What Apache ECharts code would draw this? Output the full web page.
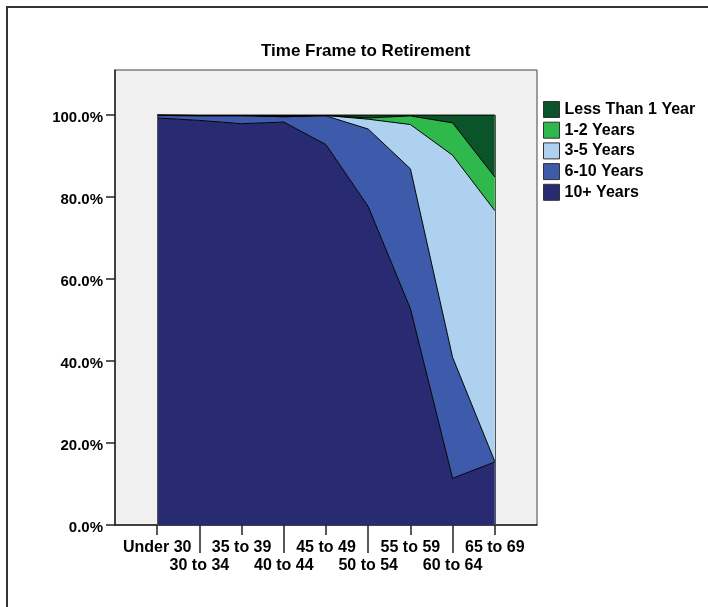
<!DOCTYPE html>
<html>
<head>
<meta charset="utf-8">
<script src="https://cdn.jsdelivr.net/npm/echarts@6/dist/echarts.min.js"></script>
<style>
  html, body { margin: 0; padding: 0; background: #fff; }
  #chart { width: 708px; height: 607px; }
</style>
</head>
<body>
<div id="chart"></div>
<script>
// Age groups along the x axis
const ageGroups = ['Under 30', '30 to 34', '35 to 39', '40 to 44', '45 to 49',
                   '50 to 54', '55 to 59', '60 to 64', '65 to 69'];

// Share of respondents (%) in each age group, by time left to retirement
const tenPlusYears   = [99.3, 98.7, 97.9, 98.3, 92.8, 77.7, 52.8, 11.4, 15.4];
const sixToTenYears  = [0.6, 1.1, 1.9, 1.3, 7.0, 18.9, 34.1, 29.5, 0.1];
const threeToFive    = [0.1, 0.1, 0.1, 0.0, 0.1, 2.4, 10.8, 49.3, 61.2];
const oneToTwo       = [0.0, 0.0, 0.0, 0.3, 0.0, 0.3, 2.1, 7.9, 8.2];
const lessThanOne    = [0.0, 0.1, 0.1, 0.1, 0.1, 0.7, 0.2, 1.9, 15.1];

const yTicks = [0, 20, 40, 60, 80, 100];
const legendOrder = ['Less Than 1 Year', '1-2 Years', '3-5 Years', '6-10 Years', '10+ Years'];

// The category axis carries an empty slot at each end so the areas sit inside the frame
const axisCats = [''].concat(ageGroups, ['']);
const pad = arr => [null].concat(arr, [null]);

const font = 'Liberation Sans, Arial, sans-serif';
const inner = i => i >= 1 && i <= ageGroups.length;

function areaSeries(name, values, color) {
  return {
    name: name,
    type: 'line',
    stack: 'total',
    data: pad(values),
    symbol: 'none',
    showSymbol: false,
    itemStyle: { color: color },
    lineStyle: { color: '#000', width: 1 },
    areaStyle: { color: color, opacity: 1 },
    emphasis: { disabled: true }
  };
}

const series = [
  areaSeries('10+ Years', tenPlusYears, '#282a72'),
  areaSeries('6-10 Years', sixToTenYears, '#3e5aab'),
  areaSeries('3-5 Years', threeToFive, '#aed1ef'),
  areaSeries('1-2 Years', oneToTwo, '#2fb84b'),
  areaSeries('Less Than 1 Year', lessThanOne, '#0b5429')
];

// Vertical edges closing the stacked block at the first and last age group
series[0].markLine = {
  silent: true,
  symbol: ['none', 'none'],
  label: { show: false },
  lineStyle: { color: '#555', width: 1, type: 'solid' },
  data: [
    [{ coord: [ageGroups[0], 0] }, { coord: [ageGroups[0], 100] }],
    [{ coord: [ageGroups[ageGroups.length - 1], 0] }, { coord: [ageGroups[ageGroups.length - 1], 100] }]
  ]
};

const chart = echarts.init(document.getElementById('chart'));
chart.setOption({
  animation: false,
  backgroundColor: '#fff',
  textStyle: { fontFamily: font },
  title: {
    text: 'Time Frame to Retirement',
    left: 256,
    top: 38,
    textStyle: { fontFamily: font, fontSize: 17, fontWeight: 'bold', color: '#000' }
  },
  legend: {
    orient: 'vertical',
    left: 538,
    top: 96,
    icon: 'rect',
    itemWidth: 16,
    itemHeight: 16,
    itemGap: 3.7,
    data: legendOrder,
    selectedMode: false,
    itemStyle: { borderColor: '#333', borderWidth: 1 },
    textStyle: { fontFamily: font, fontSize: 16, fontWeight: 'bold', color: '#000' }
  },
  grid: {
    left: 115,
    right: 171,
    top: 70,
    bottom: 82,
    show: true,
    backgroundColor: '#f0f0f0',
    borderColor: '#444',
    borderWidth: 1
  },
  xAxis: [
    {
      type: 'category',
      data: axisCats,
      boundaryGap: false,
      axisLine: { show: true, lineStyle: { color: '#222', width: 1.5 } },
      axisTick: {
        show: true, length: 10,
        interval: i => inner(i) && (i - 1) % 2 === 0,
        lineStyle: { color: '#222', width: 1.5 }
      },
      axisLabel: {
        interval: i => inner(i) && (i - 1) % 2 === 0,
        margin: 15,
        fontFamily: font, fontSize: 16, fontWeight: 'bold', color: '#000'
      },
      splitLine: { show: false }
    },
    {
      type: 'category',
      data: axisCats,
      boundaryGap: false,
      position: 'bottom',
      axisLine: { show: false },
      axisTick: {
        show: true, length: 28,
        interval: i => inner(i) && (i - 1) % 2 === 1,
        lineStyle: { color: '#222', width: 1.5 }
      },
      axisLabel: {
        interval: i => inner(i) && (i - 1) % 2 === 1,
        margin: 33,
        fontFamily: font, fontSize: 16, fontWeight: 'bold', color: '#000'
      },
      splitLine: { show: false }
    }
  ],
  yAxis: {
    type: 'value',
    min: 0,
    max: 111,
    interval: 20,
    axisLine: { show: true, lineStyle: { color: '#222', width: 1.5 } },
    axisTick: { show: true, length: 9, customValues: yTicks, lineStyle: { color: '#222', width: 1.5 } },
    axisLabel: {
      customValues: yTicks,
      margin: 12,
      verticalAlign: 'top',
      lineHeight: 6,
      formatter: v => v.toFixed(1) + '%',
      fontFamily: font, fontSize: 15, fontWeight: 'bold', color: '#000'
    },
    splitLine: { show: false }
  },
  graphic: [
    {
      type: 'rect',
      silent: true,
      shape: { x: 7, y: 7, width: 760, height: 660 },
      style: { fill: 'none', stroke: '#333', lineWidth: 2 }
    }
  ],
  series: series
});
</script>
</body>
</html>
